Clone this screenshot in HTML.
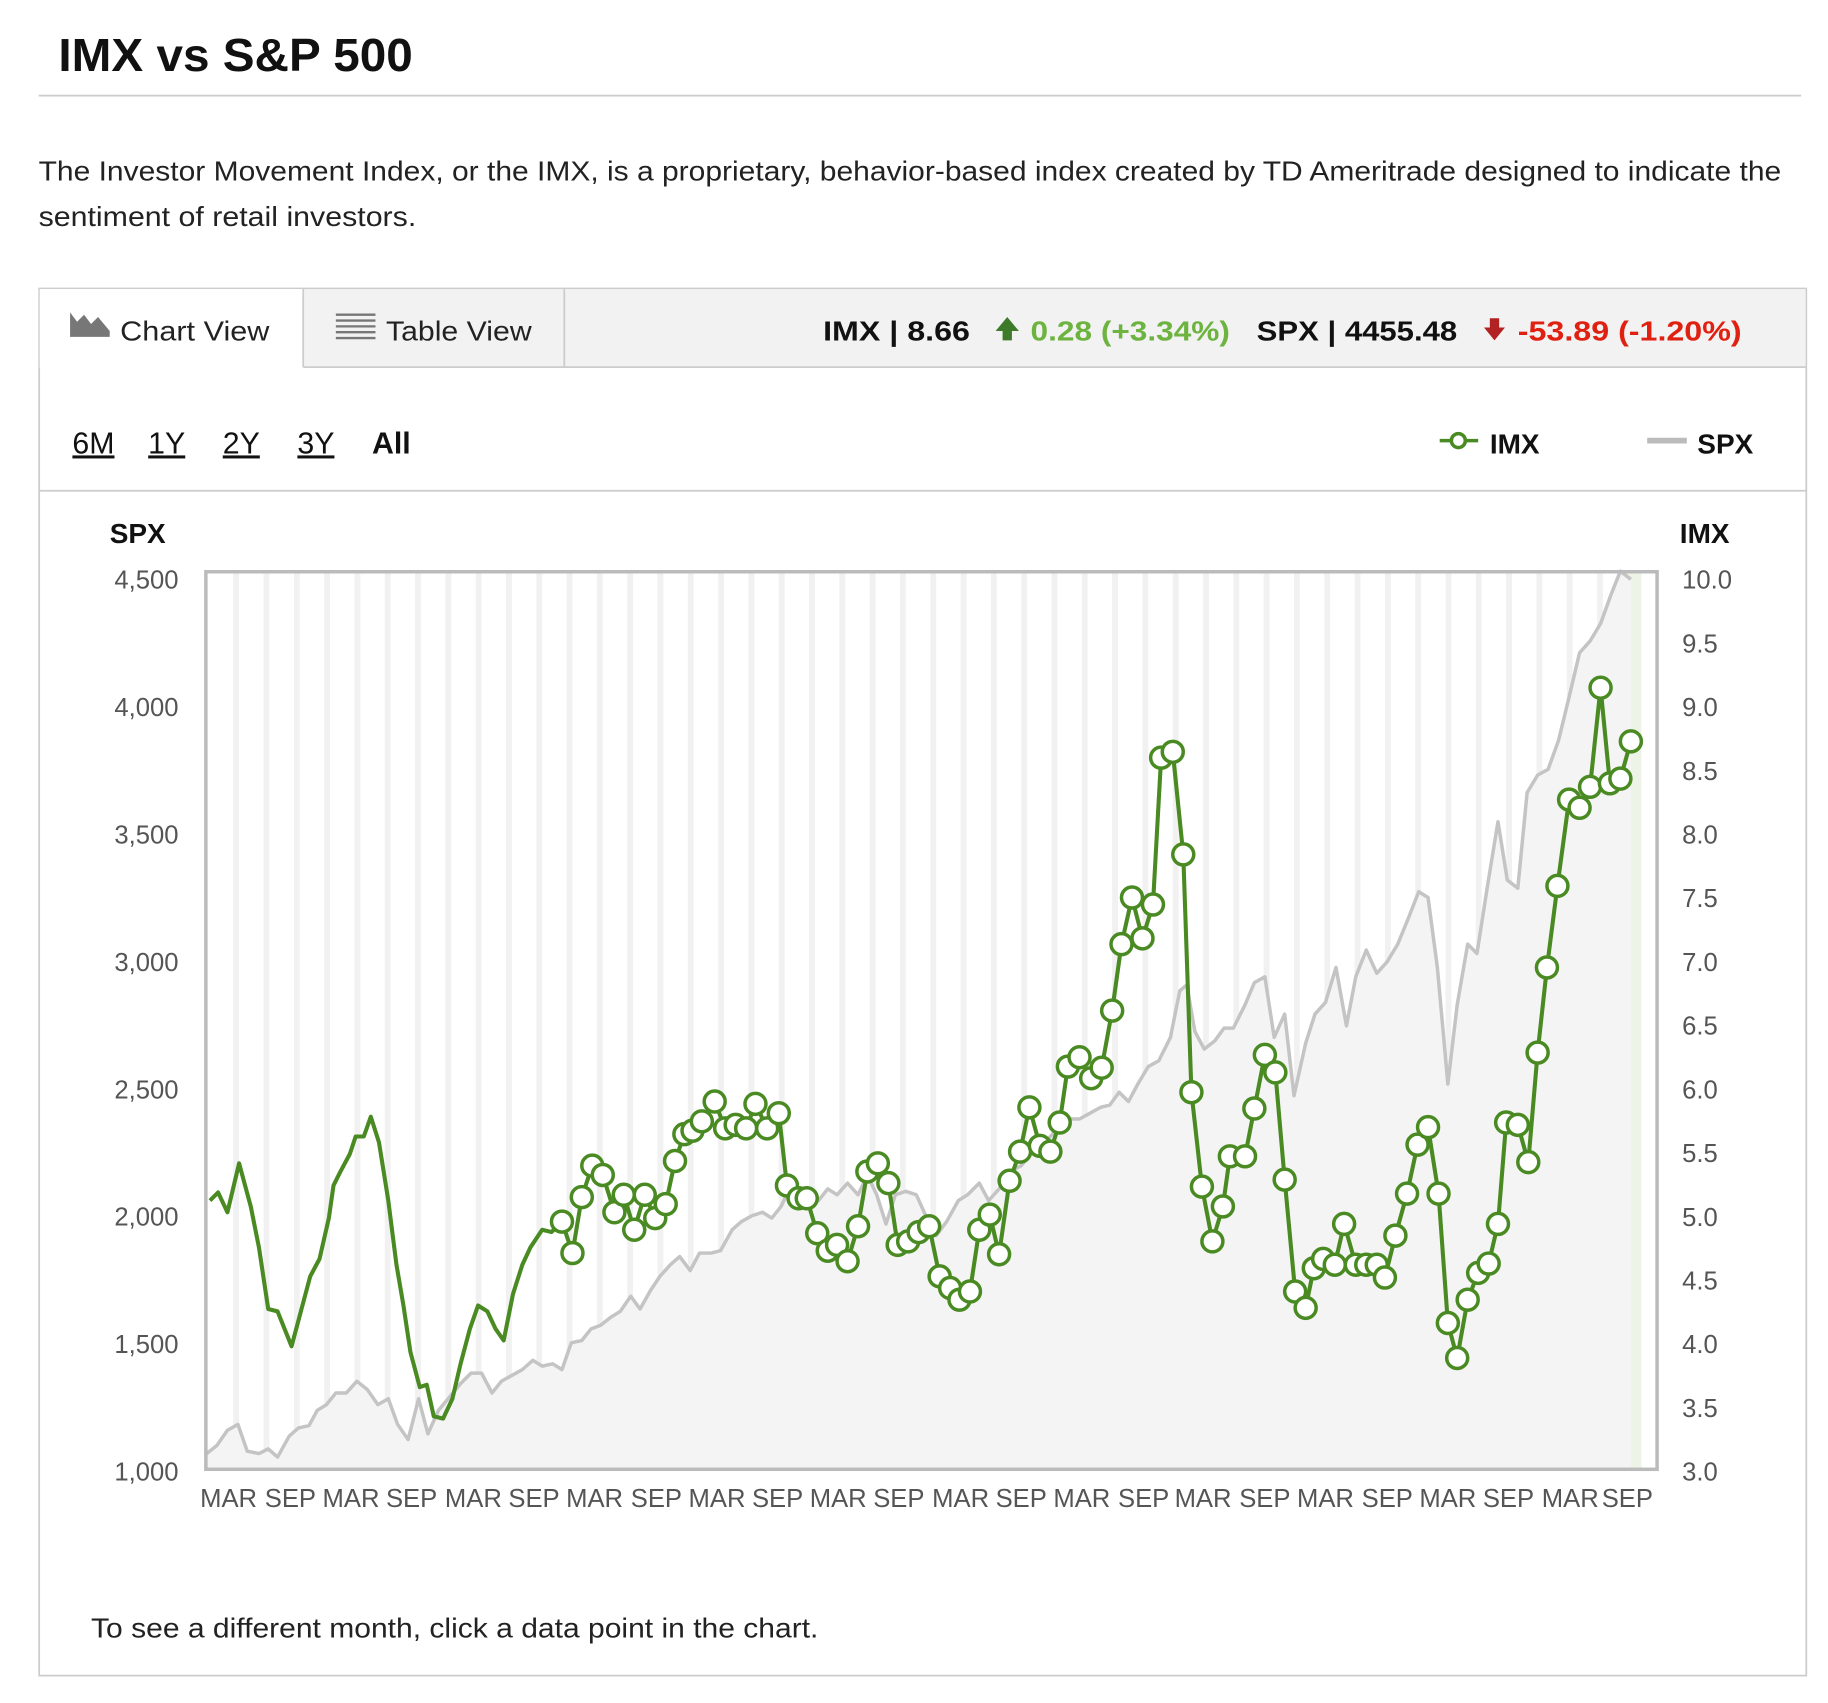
<!DOCTYPE html>
<html><head><meta charset="utf-8"><style>
html,body{margin:0;padding:0;background:#fff;}
svg{display:block;}
text{font-family:"Liberation Sans",sans-serif;}
</style></head><body>
<svg id="s" width="1828" height="1703" viewBox="0 0 1568 1461" xmlns="http://www.w3.org/2000/svg">
<rect width="1568" height="1461" fill="#fff"/>
<text x="50" y="61" font-size="40" font-weight="bold" fill="#111" textLength="304" lengthAdjust="spacingAndGlyphs">IMX vs S&amp;P 500</text>
<line x1="33" y1="82" x2="1545" y2="82" stroke="#ccc" stroke-width="1.5"/>
<text x="33" y="155" font-size="24" fill="#222" textLength="1495" lengthAdjust="spacingAndGlyphs">The Investor Movement Index, or the IMX, is a proprietary, behavior-based index created by TD Ameritrade designed to indicate the</text>
<text x="33" y="194" font-size="24" fill="#222" textLength="324" lengthAdjust="spacingAndGlyphs">sentiment of retail investors.</text>
<rect x="33.5" y="247.5" width="1516" height="1190" fill="#fff" stroke="#ccc" stroke-width="1.5"/>
<rect x="34" y="248" width="1515" height="67" fill="#f2f2f2"/>
<line x1="34" y1="315" x2="1549" y2="315" stroke="#ccc" stroke-width="1.5"/>
<rect x="34" y="248" width="226" height="68" fill="#fff"/>
<line x1="260" y1="248" x2="260" y2="315" stroke="#ccc" stroke-width="1.5"/>
<line x1="484" y1="248" x2="484" y2="315" stroke="#ccc" stroke-width="1.5"/>
<path d="M60 289 L60 268 L66 276 L72 270 L78 278 L84 272 L94 284 L94 289 Z" fill="#777"/>
<text x="103" y="292" font-size="24" fill="#222" textLength="128" lengthAdjust="spacingAndGlyphs">Chart View</text>
<g stroke="#777" stroke-width="2"><line x1="288" y1="270" x2="322" y2="270"/><line x1="288" y1="275" x2="322" y2="275"/><line x1="288" y1="280" x2="322" y2="280"/><line x1="288" y1="285" x2="322" y2="285"/><line x1="288" y1="290" x2="322" y2="290"/></g>
<text x="331" y="292" font-size="24" fill="#222" textLength="125" lengthAdjust="spacingAndGlyphs">Table View</text>
<text x="706" y="292" font-size="24" font-weight="bold" fill="#111" textLength="126" lengthAdjust="spacingAndGlyphs">IMX | 8.66</text>
<path d="M864 272 L874 284 L868 284 L868 292 L860 292 L860 284 L854 284 Z" fill="#3d7a2a"/>
<text x="884" y="292" font-size="24" font-weight="bold" fill="#6db33f" textLength="171" lengthAdjust="spacingAndGlyphs">0.28 (+3.34%)</text>
<text x="1078" y="292" font-size="24" font-weight="bold" fill="#111" textLength="172" lengthAdjust="spacingAndGlyphs">SPX | 4455.48</text>
<path d="M1278 273 L1286 273 L1286 281 L1291 281 L1282 292 L1273 281 L1278 281 Z" fill="#b22222"/>
<text x="1302" y="292" font-size="24" font-weight="bold" fill="#e02010" textLength="192" lengthAdjust="spacingAndGlyphs">-53.89 (-1.20%)</text>
<g font-size="26" fill="#111">
<text x="62" y="389" text-decoration="underline">6M</text>
<text x="127" y="389" text-decoration="underline">1Y</text>
<text x="191" y="389" text-decoration="underline">2Y</text>
<text x="255" y="389" text-decoration="underline">3Y</text>
<text x="319" y="389" font-weight="bold">All</text>
</g>
<line x1="1235" y1="378" x2="1268" y2="378" stroke="#4a8a22" stroke-width="3"/>
<circle cx="1251" cy="378" r="6" fill="#fff" stroke="#4a8a22" stroke-width="3"/>
<text x="1278" y="389" font-size="24" font-weight="bold" fill="#111">IMX</text>
<line x1="1413" y1="378" x2="1447" y2="378" stroke="#bbb" stroke-width="5"/>
<text x="1456" y="389" font-size="24" font-weight="bold" fill="#111">SPX</text>
<line x1="34" y1="421" x2="1549" y2="421" stroke="#ccc" stroke-width="1.5"/>
<text x="94" y="466" font-size="24" font-weight="bold" fill="#111">SPX</text>
<text x="1441" y="466" font-size="24" font-weight="bold" fill="#111">IMX</text>
<g id="stripes"></g>
<rect x="1390" y="491" width="18" height="769" fill="#eef3e8"/>
<path id="area" fill="#f4f4f4"/>
<path id="spx" fill="none" stroke="#c4c4c4" stroke-width="3" stroke-linejoin="round"/>
<rect x="176.5" y="490.5" width="1245" height="770" fill="none" stroke="#bbb" stroke-width="3"/>
<path id="imx" fill="none" stroke="#4a8a22" stroke-width="3.5" stroke-linejoin="round"/>
<g id="mk"></g>
<g id="lab" font-size="22" fill="#555"></g>
<text x="78" y="1405" font-size="24" fill="#222" textLength="624" lengthAdjust="spacingAndGlyphs">To see a different month, click a data point in the chart.</text>
</svg>
<script>
var NS="http://www.w3.org/2000/svg";
function el(t,a,p){var e=document.createElementNS(NS,t);for(var k in a)e.setAttribute(k,a[k]);p.appendChild(e);return e;}
var st=document.getElementById('stripes');
for(var x=200;x<1420;x+=26){el('rect',{x:x,y:491,width:5,height:769,fill:'#f1f1f1'},st);}
var spx=[[176,1248],[186,1240],[195,1227],[204,1222],[212,1245],[222,1247],[230,1243],[238,1250],[248,1232],[256,1225],[265,1223],[272,1210],[280,1205],[288,1195],[297,1195],[306,1185],[315,1192],[324,1205],[333,1200],[341,1222],[350,1235],[359,1200],[367,1230],[376,1210],[386,1198],[395,1187],[404,1178],[413,1178],[422,1195],[430,1185],[439,1180],[448,1175],[457,1167],[465,1172],[474,1170],[482,1175],[490,1152],[499,1150],[507,1140],[515,1137],[524,1130],[532,1125],[541,1112],[549,1123],[558,1107],[566,1095],[575,1085],[583,1078],[592,1090],[600,1075],[610,1075],[618,1073],[628,1055],[636,1048],[645,1043],[654,1040],[662,1045],[670,1035],[678,1018],[686,1025],[694,1022],[702,1030],[710,1020],[718,1025],[727,1015],[736,1025],[744,1008],[752,1025],[760,1050],[768,1025],[777,1022],[786,1025],[795,1045],[803,1060],[812,1048],[822,1030],[830,1025],[840,1015],[848,1030],[857,1020],[866,1005],[876,1000],[884,990],[893,985],[901,975],[910,965],[918,960],[926,960],[935,955],[944,950],[952,948],[960,937],[968,945],[976,930],[985,915],[994,910],[1004,890],[1012,850],[1018,845],[1025,885],[1033,900],[1042,893],[1050,882],[1058,882],[1068,862],[1076,843],[1085,838],[1093,890],[1102,870],[1110,940],[1120,895],[1128,870],[1137,860],[1146,830],[1155,880],[1163,838],[1172,815],[1181,835],[1190,825],[1199,810],[1208,788],[1217,765],[1225,770],[1233,830],[1242,930],[1250,862],[1259,810],[1267,818],[1276,760],[1285,705],[1293,755],[1302,762],[1310,680],[1319,665],[1328,660],[1337,635],[1346,598],[1355,560],[1364,550],[1373,535],[1382,510],[1390,490],[1399,497]];
var d=spx.map(function(p,i){return (i?'L':'M')+p[0]+' '+p[1];}).join(' ');
document.getElementById('spx').setAttribute('d',d);
document.getElementById('area').setAttribute('d',d+' L1399 1260 L176 1260 Z');
var line=[[180,1030],[187,1023],[195,1040],[205,998],[215,1035],[222,1070],[230,1123],[238,1125],[250,1155],[258,1125],[266,1095],[274,1080],[282,1045],[286,1017],[292,1005],[300,990],[305,975],[312,975],[318,958],[325,980],[333,1030],[340,1085],[346,1120],[352,1160],[360,1190],[366,1188],[372,1215],[380,1217],[388,1200],[395,1170],[403,1140],[410,1120],[418,1125],[425,1140],[432,1150],[440,1110],[448,1085],[455,1070],[465,1055],[473,1057]];
var m=[[482,1048],[491,1075],[499,1027],[508,1000],[517,1008],[527,1040],[535,1025],[544,1055],[553,1025],[562,1045],[571,1033],[579,996],[587,973],[594,970],[602,962],[613,945],[622,968],[631,965],[640,968],[648,947],[658,968],[668,955],[675,1017],[685,1028],[692,1028],[701,1058],[710,1073],[718,1068],[727,1082],[736,1052],[744,1005],[753,998],[762,1015],[770,1068],[779,1065],[788,1057],[797,1052],[806,1095],[815,1105],[823,1115],[832,1108],[840,1055],[849,1042],[857,1076],[866,1013],[875,988],[883,950],[892,983],[901,988],[909,963],[916,915],[926,907],[936,925],[945,916],[954,867],[962,810],[971,770],[980,805],[989,776],[996,650],[1006,645],[1015,733],[1022,937],[1031,1018],[1040,1065],[1049,1035],[1055,992],[1068,992],[1076,951],[1085,905],[1094,920],[1102,1012],[1111,1108],[1120,1122],[1127,1088],[1135,1080],[1145,1085],[1153,1050],[1163,1085],[1172,1085],[1181,1085],[1188,1096],[1197,1060],[1207,1024],[1216,982],[1225,967],[1234,1024],[1242,1135],[1250,1165],[1259,1115],[1268,1092],[1277,1084],[1285,1050],[1292,963],[1302,965],[1311,997],[1319,903],[1327,830],[1336,760],[1346,686],[1355,693],[1364,675],[1373,590],[1381,672],[1390,668],[1399,636]];
var all=line.concat(m);
document.getElementById('imx').setAttribute('d',all.map(function(p,i){return (i?'L':'M')+p[0]+' '+p[1];}).join(' '));
var mk=document.getElementById('mk');
m.forEach(function(p){el('circle',{cx:p[0],cy:p[1],r:9,fill:'#fff',stroke:'#4a8a22','stroke-width':3},mk);});
var lab=document.getElementById('lab');
var L=['4,500','4,000','3,500','3,000','2,500','2,000','1,500','1,000'];
var R=['10.0','9.5','9.0','8.5','8.0','7.5','7.0','6.5','6.0','5.5','5.0','4.5','4.0','3.5','3.0'];
L.forEach(function(t,i){var e=el('text',{x:153,y:505+i*109.3,'text-anchor':'end'},lab);e.textContent=t;});
R.forEach(function(t,i){var e=el('text',{x:1443,y:505+i*54.66},lab);e.textContent=t;});
var xs=[196,249,301,353,406,458,510,563,615,667,719,771,824,876,928,981,1032,1085,1137,1190,1242,1294,1347,1396];
xs.forEach(function(x,i){var e=el('text',{x:x,y:1293,'text-anchor':'middle'},lab);e.textContent=(i%2?'SEP':'MAR');});
</script>
</body></html>
